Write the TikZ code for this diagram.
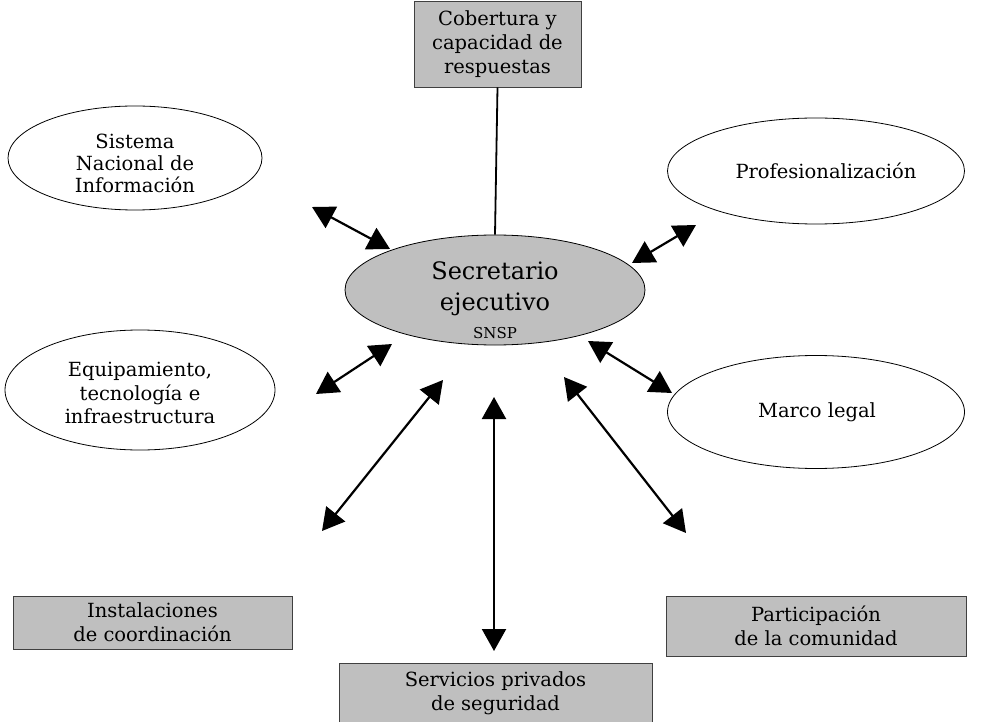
\documentclass[tikz,border=0pt]{standalone}
\usepackage{fontspec}
\setmainfont{DejaVu Serif}
\usetikzlibrary{arrows.meta,shapes.geometric}
\begin{document}
\begin{tikzpicture}[x=1pt,y=-1pt,
  oval/.style={ellipse, draw=black, line width=0.8pt, fill=white, inner sep=0pt},
  txt/.style={align=center, font=\fontsize{19.5}{23.5}\selectfont, inner sep=0pt},
  gbox/.style={rectangle, draw=black!75, line width=0.8pt, fill=black!25, align=center,
     font=\fontsize{19.5}{24}\selectfont, inner sep=0pt},
  link/.style={line width=2.2pt, {Triangle[length=22pt,width=24pt]}-{Triangle[length=22pt,width=24pt]}}
]
\useasboundingbox[fill=white] (0,0) rectangle (983,722);

% center
\node[oval, fill=black!25, minimum width=300, minimum height=110] (c) at (495,290) {};
\node[align=center, inner sep=0pt, font=\fontsize{24}{31}\selectfont] (ct) at (495,300)
  {Secretario\\ejecutivo\\[-3pt]{\fontsize{15}{18}\selectfont SNSP}};

% ellipses
\node[oval, minimum width=254, minimum height=104] (sni) at (135,158) {};
\node[txt, font=\fontsize{19.5}{22}\selectfont] (snit) at (135,163) {Sistema\\Nacional de\\Información};
\node[oval, minimum width=297, minimum height=106] (pro) at (816,171) {};
\node[txt] (prot) at (826,171) {Profesionalización};
\node[oval, minimum width=270, minimum height=120] (equ) at (140,390) {};
\node[txt] (equt) at (140,393) {Equipamiento,\\tecnología e\\infraestructura};
\node[oval, minimum width=297, minimum height=113] (mar) at (816,412) {};
\node[txt] (mart) at (817,412) {Marco legal};

% boxes
\node[gbox, minimum width=167, minimum height=86] (cob) at (497.5,44) {Cobertura y\\capacidad de\\respuestas};
\node[gbox, minimum width=279, minimum height=53] (ins) at (152.5,622.5) {Instalaciones\\de coordinación};
\node[gbox, minimum width=300, minimum height=60] (par) at (816,626) {Participación\\de la comunidad};
\node[gbox, minimum width=313, minimum height=60] (ser) at (495.5,693) {Servicios privados\\de seguridad};

% connector endpoints
\coordinate (a1) at (312,207); \coordinate (b1) at (390,249);
\coordinate (a2) at (632,263); \coordinate (b2) at (696,225);
\coordinate (a3) at (316,394); \coordinate (b3) at (392,344);
\coordinate (a4) at (322,531); \coordinate (b4) at (443,380);
\coordinate (a5) at (494,397); \coordinate (b5) at (494,651);
\coordinate (a6) at (564,377); \coordinate (b6) at (686,533);
\coordinate (a7) at (588,341); \coordinate (b7) at (672,393);

\draw[line width=1.8pt] (cob.south) -- (c.north);
\draw[link] (a1) -- (b1);
\draw[link] (a2) -- (b2);
\draw[link] (a3) -- (b3);
\draw[link] (a4) -- (b4);
\draw[link] (a5) -- (b5);
\draw[link] (a6) -- (b6);
\draw[link] (a7) -- (b7);
\end{tikzpicture}
\end{document}
